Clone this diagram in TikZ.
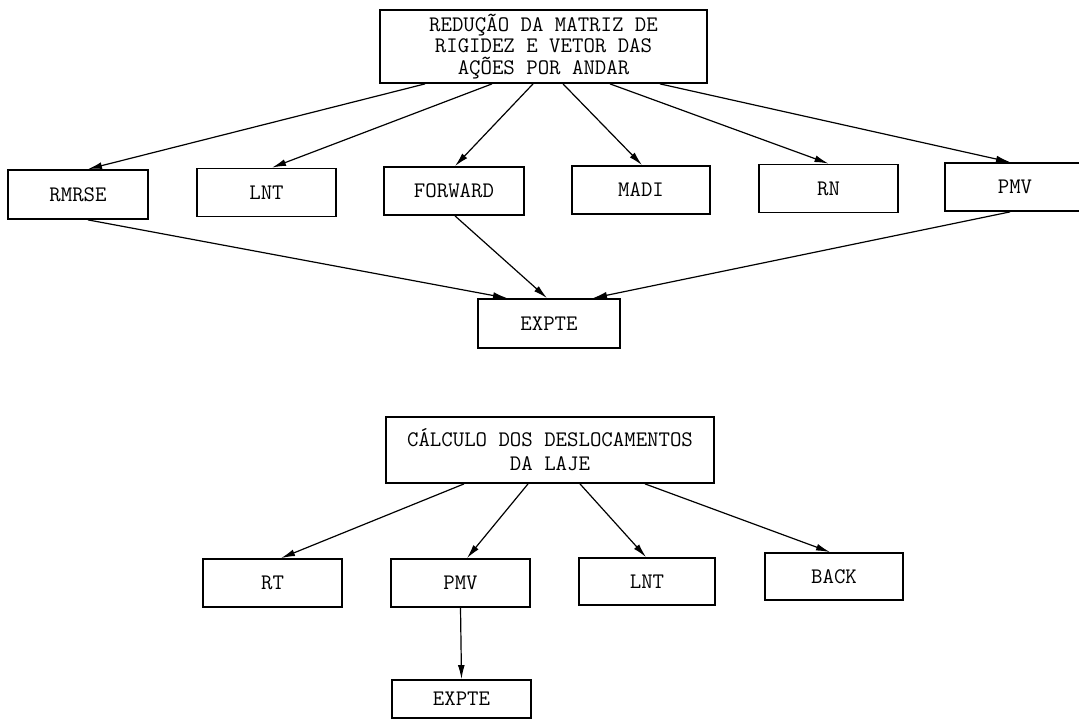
\documentclass[tikz,border=0pt]{standalone}
\usepackage{fontspec}
\usetikzlibrary{arrows.meta}
\begin{document}
\begin{tikzpicture}[x=0.5pt,y=-0.5pt,
  box/.style={draw,line width=0.9pt,inner sep=0pt,align=center,
    font=\ttfamily\fontsize{11.1}{10.8}\selectfont},
  arr/.style={line width=0.6pt,-{Latex[length=7pt,width=3.4pt]}}]
\useasboundingbox (0,0) rectangle (1079,721);

% first chart: reduction of the stiffness matrix
\node[box,minimum width=163.5pt,minimum height=36.5pt] (red) at (543.5,46.5)
  {REDUÇÃO DA MATRIZ DE\\RIGIDEZ E VETOR DAS\\AÇÕES POR ANDAR};
\node[box,minimum width=70pt,minimum height=24.5pt] (rmrse) at (78,194.5) {RMRSE};
\node[box,minimum width=69.5pt,minimum height=24pt] (lnt) at (266.5,192.5) {LNT};
\node[box,minimum width=70pt,minimum height=24pt] (fwd) at (454,191) {FORWARD};
\node[box,minimum width=69pt,minimum height=24pt] (madi) at (641,190) {MADI};
\node[box,minimum width=69.5pt,minimum height=24pt] (rn) at (828.5,188.5) {RN};
\node[box,minimum width=70pt,minimum height=24pt] (pmv) at (1015,187) {PMV};
\node[box,minimum width=71pt,minimum height=24.5pt] (expte) at (549,323.5) {EXPTE};

\draw[arr] ([xshift=-59.25pt]red.south) -- ([xshift=5pt]rmrse.north);
\draw[arr] ([xshift=-25.75pt]red.south) -- ([xshift=2.75pt]lnt.north);
\draw[arr] ([xshift=-5.25pt]red.south) -- ([xshift=0.5pt]fwd.north);
\draw[arr] ([xshift=9.75pt]red.south) -- ([xshift=0.5pt]madi.north);
\draw[arr] ([xshift=33.25pt]red.south) -- (rn.north);
\draw[arr] ([xshift=58.25pt]red.south) -- ([xshift=-2.5pt]pmv.north);

\draw[arr] ([xshift=5pt]rmrse.south) -- ([xshift=-21pt]expte.north);
\draw[arr] ([xshift=0.5pt]fwd.south) -- ([xshift=-1pt]expte.north);
\draw[arr] ([xshift=-2.5pt]pmv.south) -- ([xshift=22pt]expte.north);

% second chart: slab displacements
\node[box,minimum width=164pt,minimum height=33pt,
  font=\ttfamily\fontsize{11.1}{12}\selectfont] (calc) at (550,450)
  {CÁLCULO DOS DESLOCAMENTOS\\DA LAJE};
\node[box,minimum width=69.5pt,minimum height=24pt] (rt) at (272.5,583) {RT};
\node[box,minimum width=69.5pt,minimum height=24pt] (pmvb) at (460.5,583) {PMV};
\node[box,minimum width=68pt,minimum height=23.5pt] (lntb) at (647,581.5) {LNT};
\node[box,minimum width=69pt,minimum height=23.5pt] (back) at (834,576.5) {BACK};
\node[box,minimum width=69.5pt,minimum height=19pt] (exptb) at (461.5,699) {EXPTE};

\draw[arr] ([xshift=-43pt]calc.south) -- ([xshift=4.25pt]rt.north);
\draw[arr] ([xshift=-11pt]calc.south) -- ([xshift=3.25pt]pmvb.north);
\draw[arr] ([xshift=15pt]calc.south) -- ([xshift=-0.5pt]lntb.north);
\draw[arr] ([xshift=47.5pt]calc.south) -- ([xshift=-2pt]back.north);
\draw[arr] (pmvb.south) -- (exptb.north);
\end{tikzpicture}
\end{document}
